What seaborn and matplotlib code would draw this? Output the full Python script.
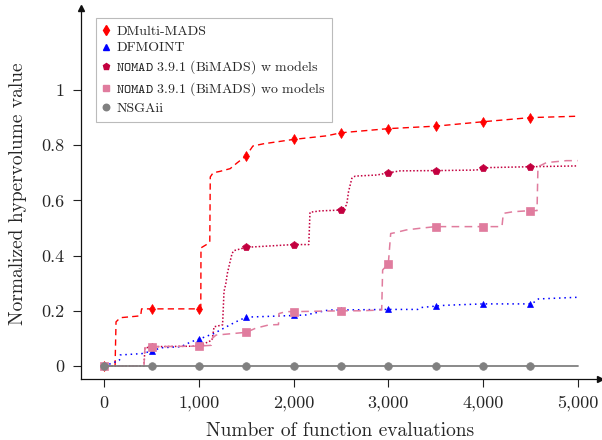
import matplotlib
matplotlib.use("Agg")
import matplotlib.pyplot as plt
from matplotlib.lines import Line2D
import numpy as np
import pandas as pd
import seaborn as sns

# Hypervolume progress of each solver against the evaluation budget
dmulti_x = [0, 115, 125, 170, 330, 385, 395, 500, 1000, 1020, 1022, 1080, 1115, 1120,
            1150, 1220, 1330, 1400, 1500, 1570, 1680, 2000, 2350, 2500, 3000, 3500,
            4000, 4500, 5000]
dmulti_y = [0.0, 0.0, 0.16, 0.175, 0.18, 0.182, 0.207, 0.207, 0.207, 0.21, 0.428, 0.44,
            0.45, 0.685, 0.70, 0.705, 0.715, 0.735, 0.762, 0.797, 0.805, 0.821, 0.834,
            0.845, 0.86, 0.869, 0.885, 0.90, 0.905]

dfmoint_x = [0, 160, 170, 400, 500, 600, 810, 920, 1000, 1090, 1160, 1290, 1390, 1500,
             2000, 2130, 2370, 2500, 3000, 3310, 3350, 3500, 3600, 4000, 4500, 4550,
             4585, 5000]
dfmoint_y = [0.0, 0.02, 0.04, 0.045, 0.054, 0.066, 0.07, 0.088, 0.097, 0.109, 0.118,
             0.142, 0.16, 0.177, 0.183, 0.185, 0.203, 0.203, 0.205, 0.205, 0.212, 0.217,
             0.22, 0.225, 0.225, 0.233, 0.243, 0.249]

nomad_w_x = [0, 420, 430, 500, 1000, 1140, 1160, 1250, 1265, 1285, 1300, 1350, 1370,
             1500, 2000, 2160, 2173, 2280, 2500, 2560, 2580, 2615, 2650, 2880, 3000,
             3125, 3500, 3930, 4000, 4075, 4500, 5000]
nomad_w_y = [0.0, 0.0, 0.065, 0.07, 0.072, 0.094, 0.142, 0.149, 0.27, 0.30, 0.335, 0.408,
             0.418, 0.43, 0.44, 0.44, 0.557, 0.562, 0.565, 0.583, 0.632, 0.68, 0.688,
             0.692, 0.70, 0.707, 0.708, 0.71, 0.716, 0.719, 0.722, 0.725]

nomad_wo_x = [0, 420, 430, 500, 1000, 1130, 1140, 1180, 1500, 1600, 1740, 1840, 1845,
              1920, 2000, 2500, 2700, 2930, 2940, 3000, 3025, 3070, 3190, 3335, 3500,
              4000, 4200, 4214, 4320, 4500, 4570, 4580, 4670, 4880, 5000]
nomad_wo_y = [0.0, 0.0, 0.065, 0.07, 0.072, 0.075, 0.10, 0.112, 0.122, 0.137, 0.149,
              0.15, 0.19, 0.197, 0.197, 0.20, 0.20, 0.203, 0.348, 0.37, 0.48, 0.483,
              0.493, 0.499, 0.505, 0.505, 0.505, 0.553, 0.559, 0.563, 0.563, 0.722,
              0.737, 0.744, 0.744]

nsga_x = [0, 500, 1000, 1500, 2000, 2500, 3000, 3500, 4000, 4500, 5000]
nsga_y = [0.0, 0.0, 0.0, 0.0, 0.0, 0.0, 0.0, 0.0, 0.0, 0.0, 0.0]

x_ticks = [0, 1000, 2000, 3000, 4000, 5000]
x_tick_labels = ["0", "1,000", "2,000", "3,000", "4,000", "5,000"]
y_ticks = [0, 0.2, 0.4, 0.6, 0.8, 1.0]
y_tick_labels = ["0", "0.2", "0.4", "0.6", "0.8", "1"]

sns.set_style("ticks")
plt.rcParams["font.family"] = ["cmr10", "DejaVu Serif"]
plt.rcParams["mathtext.fontset"] = "cm"
plt.rcParams["axes.unicode_minus"] = False
plt.rcParams["axes.formatter.use_mathtext"] = True

series = [
    dict(name="DMulti-MADS", x=dmulti_x, y=dmulti_y, color="#ff0000",
         ls=(0, (4.5, 3)), lw=1.0, marker="d", ms=5.5, mew=0.5),
    dict(name="DFMOINT", x=dfmoint_x, y=dfmoint_y, color="#0000ff",
         ls=(0, (1, 2.5)), lw=1.1, marker="^", ms=5, mew=0.5),
    dict(name=r"$\mathtt{NOMAD\ 3.9.1}$ (BiMADS) w models", x=nomad_w_x, y=nomad_w_y,
         color="#c3003f", ls=(0, (1, 1.3)), lw=1.1, marker="p", ms=5.5, mew=0.5),
    dict(name=r"$\mathtt{NOMAD\ 3.9.1}$ (BiMADS) wo models", x=nomad_wo_x, y=nomad_wo_y,
         color="#e07c9e", ls=(0, (5, 3.5)), lw=1.1, marker="s", ms=5.2, mew=0.5),
    dict(name="NSGAii", x=nsga_x, y=nsga_y, color="#808080",
         ls="-", lw=1.3, marker="o", ms=5.5, mew=0.5),
]

fig = plt.figure(figsize=(6.02, 4.40), dpi=100)
ax = fig.add_axes([80.7 / 602, 61.3 / 440, (600 - 80.7) / 602, (378.7 - 8.3) / 440])

handles = []
for s in series:
    df = pd.DataFrame({"evals": s["x"], "hv": s["y"]})
    marks = [i for i, v in enumerate(s["x"]) if v % 500 == 0 and v < 5000]
    sns.lineplot(data=df, x="evals", y="hv", ax=ax, estimator=None, sort=False,
                 color=s["color"], linestyle=s["ls"], linewidth=s["lw"],
                 marker=s["marker"], markersize=s["ms"], markevery=marks,
                 markeredgewidth=s["mew"], markeredgecolor=s["color"],
                 markerfacecolor=s["color"])
    handles.append(Line2D([], [], linestyle="none", marker=s["marker"],
                          markersize=s["ms"] * 0.85, color=s["color"],
                          markeredgecolor=s["color"], label=s["name"]))

ax.set_xlim(-248, 5235)
ax.set_ylim(-0.046, 1.296)
ax.set_xticks(x_ticks)
ax.set_xticklabels(x_tick_labels)
ax.set_yticks(y_ticks)
ax.set_yticklabels(y_tick_labels)
ax.tick_params(axis="both", labelsize=13, length=6, width=0.8, color="#222222",
               direction="out", pad=6)
ax.set_xlabel("Number of function evaluations", fontsize=14, labelpad=8)
ax.set_ylabel("Normalized hypervolume value", fontsize=14, labelpad=10)

sns.despine(ax=ax)
for side in ("left", "bottom"):
    ax.spines[side].set_linewidth(0.9)
    ax.spines[side].set_color("#111111")

# arrow heads at the ends of the two axes
ax.plot(1, 0, marker=">", color="#111111", ms=4, transform=ax.transAxes, clip_on=False)
ax.plot(0, 1, marker="^", color="#111111", ms=4, transform=ax.transAxes, clip_on=False)

leg = ax.legend(handles=handles, loc="upper left", bbox_to_anchor=(0.0295, 0.974),
                borderaxespad=0, fontsize=10, handlelength=0.5, handletextpad=0.45,
                labelspacing=0.3, borderpad=0.5, frameon=True, fancybox=False,
                framealpha=1)
leg.get_frame().set_edgecolor("#bbbbbb")
leg.get_frame().set_linewidth(0.8)

fig.savefig("out.png", dpi=100)
